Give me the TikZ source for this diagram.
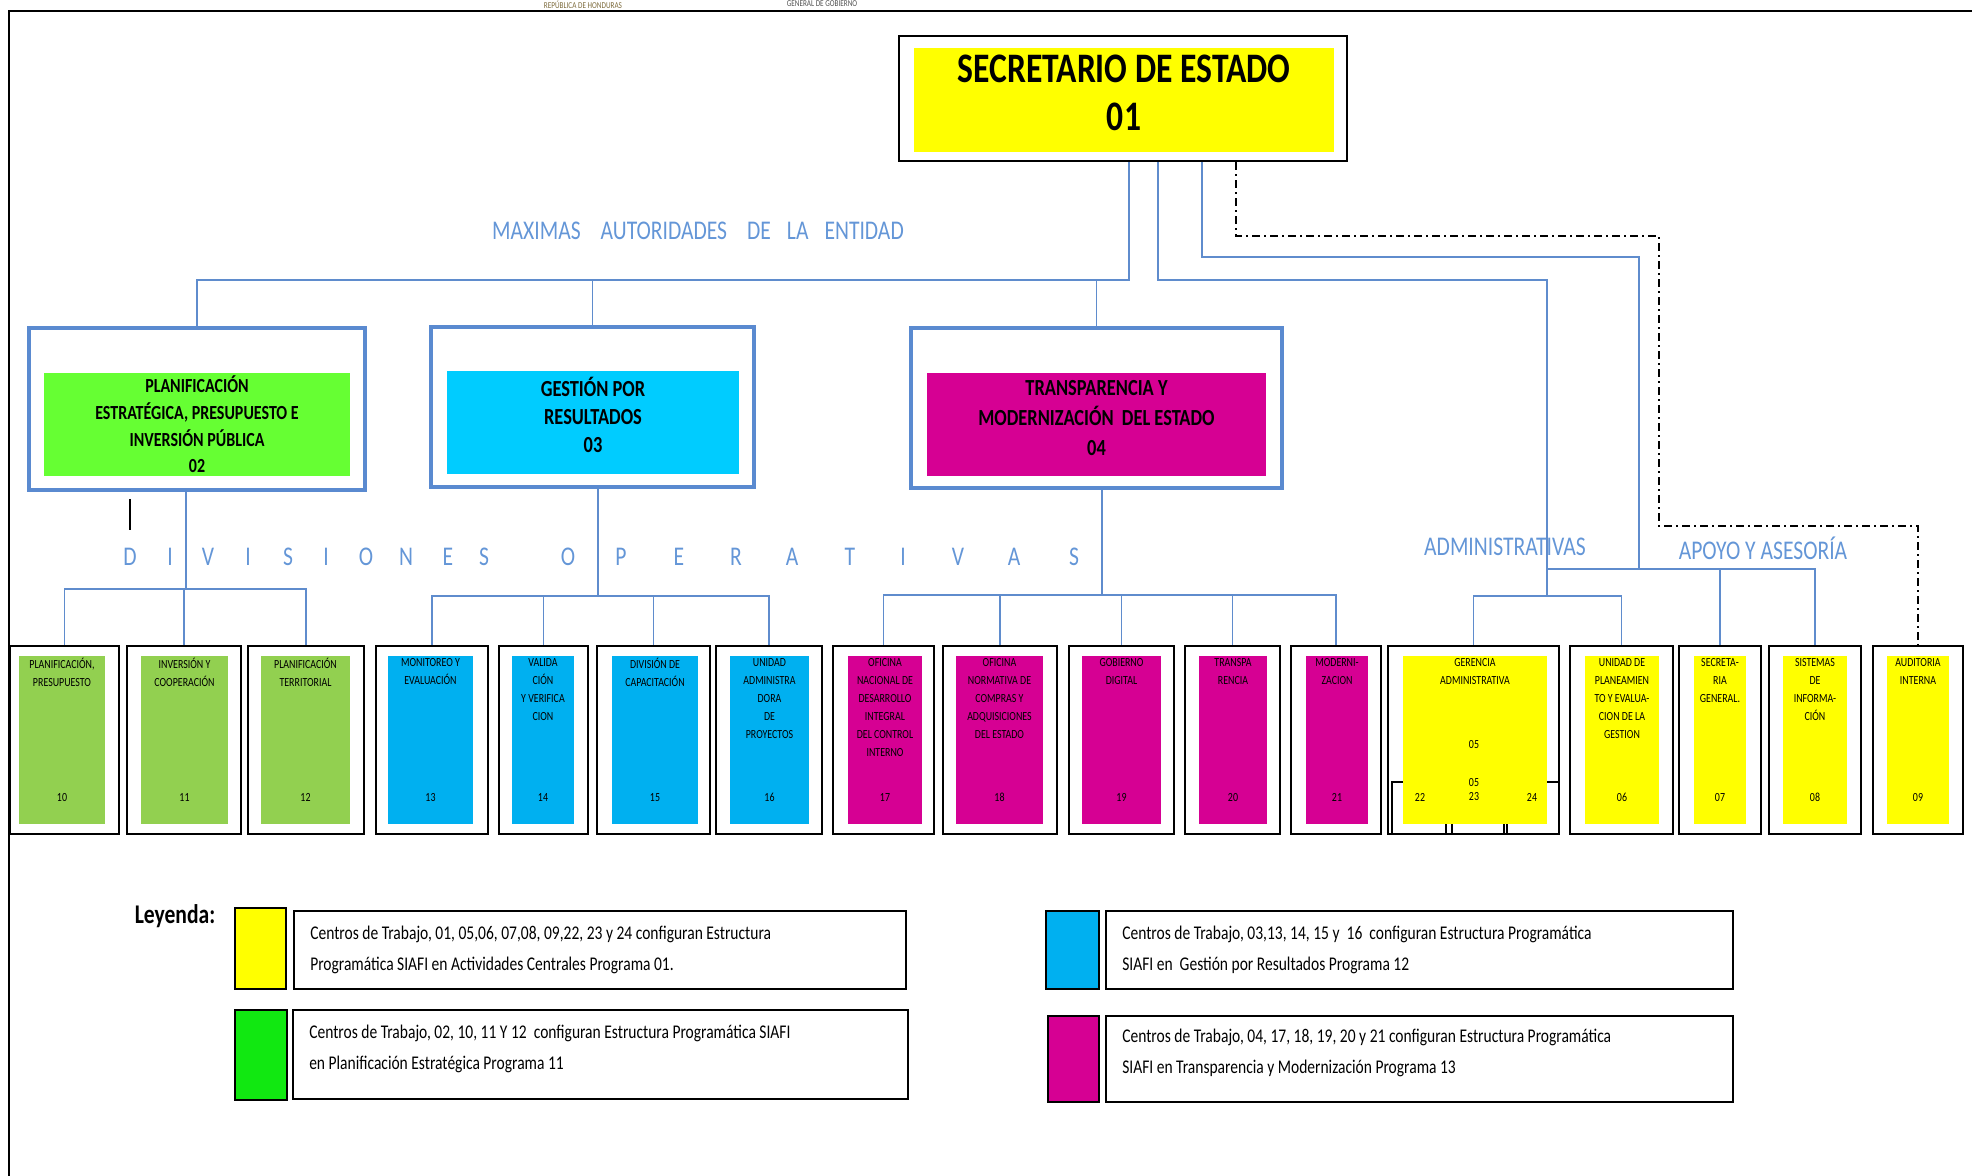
\documentclass[tikz,border=0pt]{standalone}
\usepackage{fontspec}
\setmainfont[FakeStretch=0.8]{Carlito}
\usetikzlibrary{fit}

\definecolor{linkblue}{RGB}{95,140,205}
\definecolor{labelblue}{RGB}{100,150,215}
\definecolor{frameblue}{RGB}{90,138,208}
\definecolor{tgreen}{RGB}{102,255,51}
\definecolor{tcyan}{RGB}{0,204,255}
\definecolor{tmagenta}{RGB}{214,0,147}
\definecolor{byellow}{RGB}{255,255,0}
\definecolor{bgreen}{RGB}{146,208,80}
\definecolor{bcyan}{RGB}{0,176,240}
\definecolor{lgreen}{RGB}{17,232,17}
\definecolor{hdrgold}{RGB}{125,107,60}
\definecolor{hdrgray}{RGB}{80,80,80}

\tikzset{
  orgline/.style={draw=linkblue, line width=0.9pt},
  orgdash/.style={draw=black, line width=0.9pt, dash pattern=on 4pt off 2pt on 1pt off 2pt},
  orglabel/.style={text=labelblue, font=\fontsize{13.5}{16}\selectfont, inner sep=0pt},
  unitframe/.style={draw=black, line width=1.2pt, fill=white, inner sep=0pt},
  subframe/.style={draw=black, line width=0.8pt},
  unitfill/.style={fill=#1, inner sep=0pt},
  unittext/.style={align=center, font=\fontsize{6.2}{9}\selectfont, inner sep=0.5pt},
  areaframe/.style={draw=frameblue, line width=2pt, fill=white, inner sep=0pt},
  areatext/.style={align=center, font=\bfseries\fontsize{11.5}{14}\selectfont},
  swatch/.style={draw=black, line width=0.8pt, fill=#1, inner sep=0pt},
  legbox/.style={draw=black, line width=0.8pt, inner sep=0pt},
  legtext/.style={align=left, font=\fontsize{9.7}{15.5}\selectfont},
  hdrtext/.style={anchor=north, inner sep=0pt, font=\fontsize{4.5}{5}\selectfont},
}

\begin{document}
\begin{tikzpicture}[x=0.5pt, y=-0.5pt]
    \useasboundingbox (0,0) rectangle (1972,1176);

    % Page frame and the heading above it
    \draw[line width=1pt] (9,1176) -- (9,11) -- (1972,11);
    \node[hdrtext, text=hdrgold] (rep) at (583,0.5) {REPÚBLICA DE HONDURAS};
    \node[hdrtext, text=hdrgray] (gob) at (822,0.5) {GENERAL DE GOBIERNO};

    % Secretario de Estado
    \node[unitframe, fit={(899,36) (1347,161)}] (sec) {};
    \node[unitfill=byellow, fit={(914,48) (1334,152)}] (secf) {};
    \node[align=center, font=\bfseries\fontsize{21}{24}\selectfont] (sect) at ([yshift=3.5pt]secf.center) {SECRETARIO DE ESTADO\\01};

    % Three divisions under the secretary
    \node[areaframe, fit={(29,328) (365,490)}] (pl) {};
    \node[unitfill=tgreen, fit={(44,373) (350,476)}] (plf) {};
    \node[areatext, font=\bfseries\fontsize{10}{13.3}\selectfont] (plt) at (plf.center) {PLANIFICACIÓN\\ESTRATÉGICA, PRESUPUESTO E\\INVERSIÓN PÚBLICA\\02};

    \node[areaframe, fit={(431,327) (754,487)}] (gr) {};
    \node[unitfill=tcyan, fit={(447,371) (739,474)}] (grf) {};
    \node[areatext] (grt) at ([yshift=4pt]grf.center) {GESTIÓN POR\\RESULTADOS\\03};

    \node[areaframe, fit={(911,328) (1282,488)}] (tm) {};
    \node[unitfill=tmagenta, fit={(927,373) (1266,476)}] (tmf) {};
    \node[areatext, font=\bfseries\fontsize{11.5}{15}\selectfont] (tmt) at ([yshift=3pt]tmf.center) {TRANSPARENCIA Y\\MODERNIZACIÓN~ DEL ESTADO\\04};

    % Working units in the bottom row
    \foreach \n/\xa/\xb/\ia/\ib/\col/\txt in {
        10/10/119/19/105/bgreen/{PLANIFICACIÓN,\\PRESUPUESTO},
        11/127/241/141/228/bgreen/{INVERSIÓN Y\\COOPERACIÓN},
        12/248/364/261/350/bgreen/{PLANIFICACIÓN\\TERRITORIAL},
        13/376/488/388/473/bcyan/{MONITOREO Y\\EVALUACIÓN},
        14/499/588/512/574/bcyan/{VALIDA\\CIÓN\\Y VERIFICA\\CION},
        15/597/710/612/698/bcyan/{DIVISIÓN DE\\CAPACITACIÓN},
        16/716/822/730/809/bcyan/{UNIDAD\\ADMINISTRA\\DORA\\DE\\PROYECTOS},
        17/833/934/848/922/tmagenta/{OFICINA\\NACIONAL DE\\DESARROLLO\\INTEGRAL\\DEL CONTROL\\INTERNO},
        18/943/1057/956/1043/tmagenta/{OFICINA\\NORMATIVA DE\\COMPRAS Y\\ADQUISICIONES\\DEL ESTADO},
        19/1069/1174/1082/1161/tmagenta/{GOBIERNO\\DIGITAL},
        20/1185/1280/1199/1267/tmagenta/{TRANSPA\\RENCIA},
        21/1291/1381/1306/1368/tmagenta/{MODERNI-\\ZACION},
        06/1570/1673/1585/1659/byellow/{UNIDAD DE\\PLANEAMIEN\\TO Y EVALUA-\\CION DE LA\\GESTION},
        07/1679/1761/1694/1746/byellow/{SECRETA-\\RIA\\GENERAL.},
        08/1769/1861/1783/1847/byellow/{SISTEMAS\\DE\\INFORMA-\\CIÓN},
        09/1873/1963/1887/1949/byellow/{AUDITORIA\\INTERNA}}
    {
        \node[unitframe, fit={(\xa,646) (\xb,834)}] (u\n) {};
        \node[unitfill=\col, fit={(\ia,656) (\ib,824)}] (f\n) {};
        \node[unittext, anchor=north] (t\n) at ([yshift=-0.8pt]f\n.north) {\txt};
        \node[unittext] (n\n) at ([yshift=13.5pt]f\n.south) {\n};
    }

    % Gerencia administrativa with its three sub units behind
    \node[unitframe, fit={(1388,646) (1559,834)}] (u05) {};
    \draw[subframe] (1392,782) rectangle (1446,834);
    \draw[subframe] (1452,782) rectangle (1504,834);
    \draw[subframe] (1507,782) rectangle (1559,834);
    \node[unitfill=byellow, fit={(1403,656) (1547,824)}] (f05) {};
    \node[unittext, anchor=north] (t05) at ([yshift=-0.8pt]f05.north) {GERENCIA\\ADMINISTRATIVA};
    \node[unittext] (n05a) at (1474,745) {05};
    \node[unittext] (n05b) at (1474,783) {05};
    \node[unittext] (n22) at (1420,797) {22};
    \node[unittext] (n23) at (1474,797) {23};
    \node[unittext] (n24) at (1532,797) {24};

    % Junctions of the connectors
    \coordinate (jA) at (1129,280);
    \coordinate (jB) at (1158,280);
    \coordinate (jC) at (1202,257);
    \coordinate (jG) at (1547,596);
    \coordinate (jP) at (1639,569);
    \coordinate (dd1) at (1236,236);
    \coordinate (dd2) at (1659,526);
    \coordinate (bpl) at (186,589);
    \coordinate (bgr) at (598,596);
    \coordinate (btm) at (1102,595);

    % Secretary to the three divisions
    \draw[orgline] (sec.south -| jA) -- (jA) -| (pl.north);
    \draw[orgline] (gr.north) -- (gr.north |- jA);
    \draw[orgline] (tm.north) -- (tm.north |- jA);

    % Secretary to the administrative and support units
    \draw[orgline] (sec.south -| jB) -- (jB) -| (jG);
    \draw[orgline] (u05.north) |- (jG) -| (u06.north);
    \draw[orgline] (sec.south -| jC) -- (jC) -| (jP);
    \draw[orgline] (jG |- jP) -- (u08.north |- jP) -- (u08.north);
    \draw[orgline] (u07.north) -- (u07.north |- jP);
    \draw[orgdash] (sec.south -| dd1) -- (dd1) -| (dd2) -| (u09.north);

    % Divisions to their units
    \draw[orgline] (pl.south -| bpl) -- (bpl);
    \draw[orgline] (u10.north) |- (bpl) -| (u12.north);
    \draw[orgline] (u11.north) -- (u11.north |- bpl);
    \draw[orgline] (gr.south -| bgr) -- (bgr);
    \draw[orgline] (u13.north) |- (bgr) -| (u16.north);
    \foreach \k in {14,15} \draw[orgline] (u\k.north) -- (u\k.north |- bgr);
    \draw[orgline] (tm.south -| btm) -- (btm);
    \draw[orgline] (u17.north) |- (btm) -| (u21.north);
    \foreach \k in {18,19,20} \draw[orgline] (u\k.north) -- (u\k.north |- btm);
    \draw[line width=1pt] (130,499) -- (130,530);

    % Blue headings
    \node[orglabel] (lmax) at (698,231) {MAXIMAS\hspace{10pt}AUTORIDADES\hspace{10pt}DE\hspace{8pt}LA\hspace{8pt}ENTIDAD};
    \foreach \l/\x [count=\i] in {D/130, I/170, V/208, I/248, S/288, I/326, O/366, N/406, E/448, S/484,
                                  O/568, P/621, E/679, R/736, A/792, T/850, I/903, V/958, A/1014, S/1074}
        \node[orglabel] (dv\i) at (\x,557) {\l};
    \node[orglabel] (ladm) at (1505,547) {ADMINISTRATIVAS};
    \node[orglabel] (lapo) at (1763,548) {APOYO Y ASESORÍA};

    % Legend
    \node[font=\bfseries\fontsize{13.5}{16}\selectfont] (ley) at (175,916) {Leyenda:};
    \node[swatch=byellow, fit={(235,908) (286,989)}] (sw1) {};
    \node[legbox, fit={(294,911) (906,989)}] (lg1) {};
    \node[legtext, anchor=west] (lt1) at ([xshift=5pt]lg1.west) {Centros de Trabajo, 01, 05,06, 07,08, 09,22, 23 y 24 configuran Estructura\\Programática SIAFI en Actividades Centrales Programa 01.};

    \node[swatch=lgreen, fit={(235,1010) (287,1100)}] (sw2) {};
    \node[legbox, fit={(293,1010) (908,1099)}] (lg2) {};
    \node[legtext, anchor=west] (lt2) at ([xshift=5pt, yshift=3pt]lg2.west) {Centros de Trabajo, 02, 10, 11 Y 12~ configuran Estructura Programática SIAFI\\en Planificación Estratégica Programa 11};

    \node[swatch=bcyan, fit={(1046,911) (1099,989)}] (sw3) {};
    \node[legbox, fit={(1106,911) (1733,989)}] (lg3) {};
    \node[legtext, anchor=west] (lt3) at ([xshift=5pt]lg3.west) {Centros de Trabajo, 03,13, 14, 15 y~ 16~ configuran Estructura Programática\\SIAFI en~ Gestión por Resultados Programa 12};

    \node[swatch=tmagenta, fit={(1048,1016) (1099,1102)}] (sw4) {};
    \node[legbox, fit={(1106,1016) (1733,1102)}] (lg4) {};
    \node[legtext, anchor=west] (lt4) at ([xshift=5pt, yshift=3pt]lg4.west) {Centros de Trabajo, 04, 17, 18, 19, 20 y 21 configuran Estructura Programática\\SIAFI en Transparencia y Modernización Programa 13};

\end{tikzpicture}
\end{document}
